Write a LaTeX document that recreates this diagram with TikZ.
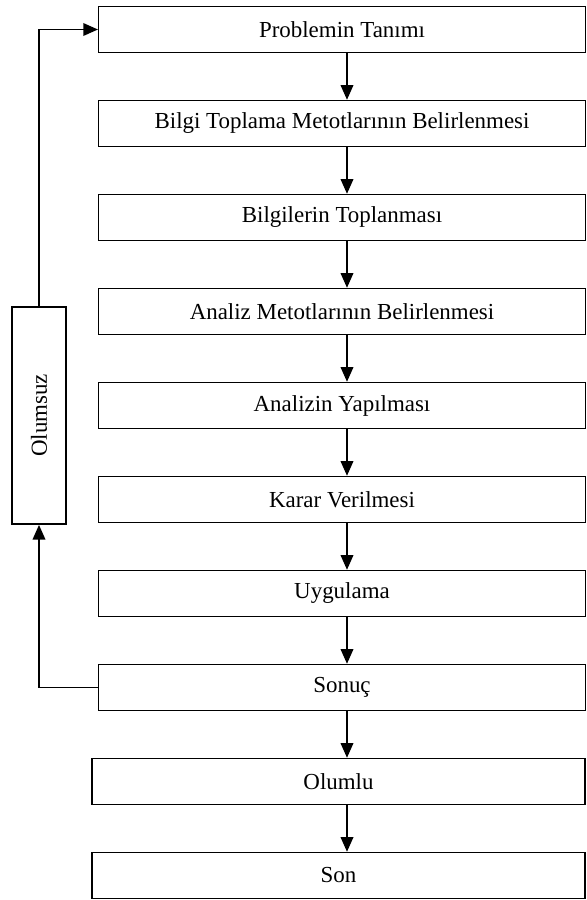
\documentclass[tikz,border=0pt]{standalone}
\usepackage{fontspec}
\setmainfont{Liberation Serif}
\usetikzlibrary{arrows.meta, positioning}

\begin{document}
\begin{tikzpicture}[
  x=0.75pt, y=-0.75pt,
  node distance=34.9pt,
  box/.style={draw, line width=1.1pt, minimum width=365pt, minimum height=34.5pt,
              inner sep=0pt, align=center, font=\fontsize{17.2}{20}\selectfont},
  widebox/.style={box, minimum width=370pt},
  sidebox/.style={box, rotate=90, minimum width=163pt, minimum height=40.5pt},
  arr/.style={-{Triangle[length=11pt, width=9.5pt]}, line width=1.1pt},
]
\useasboundingbox (0,0) rectangle (586,900);

% Main steps
\node[box] (tanim) at (342,29.5) {Problemin Tanımı};
\node[box, below=of tanim] (metot)  {Bilgi Toplama Metotlarının Belirlenmesi};
\node[box, below=of metot] (toplam) {Bilgilerin Toplanması};
\node[box, below=of toplam] (analizm) {Analiz Metotlarının Belirlenmesi};
\node[box, below=of analizm] (analiz) {Analizin Yapılması};
\node[box, below=of analiz] (karar)  {Karar Verilmesi};
\node[box, below=of karar] (uygula) {Uygulama};
\node[box, below=of uygula] (sonuc)  {Sonuç};
\node[widebox, below=of sonuc, xshift=-2.6pt] (olumlu) {Olumlu};
\node[widebox, below=of olumlu] (son) {Son};

% Feedback
\node[sidebox] (olumsuz) at (39,415.5) {Olumsuz};

% Arrows -- main flow
\coordinate (ax) at (347,0);
\draw[arr] (tanim.south -| ax)   -- (metot.north -| ax);
\draw[arr] (metot.south -| ax)   -- (toplam.north -| ax);
\draw[arr] (toplam.south -| ax)  -- (analizm.north -| ax);
\draw[arr] (analizm.south -| ax) -- (analiz.north -| ax);
\draw[arr] (analiz.south -| ax)  -- (karar.north -| ax);
\draw[arr] (karar.south -| ax)   -- (uygula.north -| ax);
\draw[arr] (uygula.south -| ax)  -- (sonuc.north -| ax);
\draw[arr] (sonuc.south -| ax)   -- (olumlu.north -| ax);
\draw[arr] (olumlu.south -| ax)  -- (son.north -| ax);

% Arrows -- feedback loop
\draw[arr] (sonuc.west) -| (olumsuz.west);
\draw[arr] (olumsuz.east) |- (tanim.west);

\end{tikzpicture}
\end{document}
